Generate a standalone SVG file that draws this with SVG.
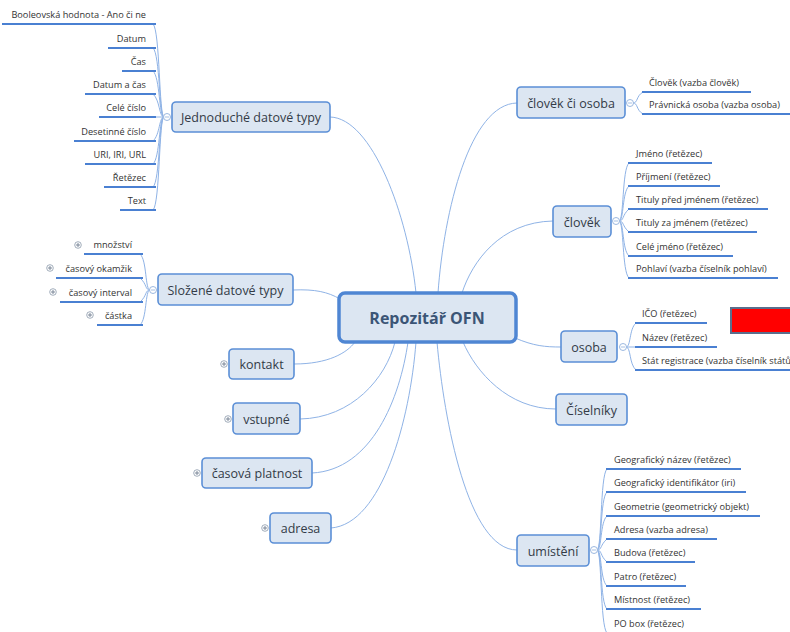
<svg xmlns="http://www.w3.org/2000/svg" width="790" height="632" viewBox="0 0 790 632">
<defs>
<style>
.box{fill:#dce6f2;stroke:#5b8fd6;stroke-width:1.6}
.root{fill:#dce6f2;stroke:#4f86d3;stroke-width:3.5}
.nt{font-family:"Open Sans","Noto Sans",sans-serif;font-size:12.5px;fill:#333b47;text-anchor:middle}
.rt{font-family:"Open Sans","Noto Sans",sans-serif;font-size:16px;font-weight:bold;fill:#3b5576;text-anchor:middle}
.lt{font-family:"Open Sans","Noto Sans",sans-serif;font-size:9.2px;fill:#333}
.ltr{text-anchor:end}
.ul{stroke:#4a80d2;stroke-width:2;fill:none}
.con{stroke:#8fb3e6;stroke-width:1;fill:none}
.br{stroke:#8fb3e6;stroke-width:1;fill:none}
.col{fill:#fff;stroke:#9bb8e0;stroke-width:1}
.plus{fill:#fff;stroke:#8a98aa;stroke-width:0.8}
.pl{stroke:#6f7d90;stroke-width:0.9}
</style>
</defs>

<g id="connectors">
<path class="con" d="M330,117 C372,118 408,215 416,293"/>
<path class="con" d="M517,103 C470,104 444,210 438,293"/>
<path class="con" d="M553,221 C500,222 472,262 462,293"/>
<path class="con" d="M293,290 C315,289 328,292 340,299"/>
<path class="con" d="M294,364 C328,364 347,353 355,342"/>
<path class="con" d="M300,419 C352,418 386,378 395,342"/>
<path class="con" d="M312,473 C372,470 400,398 408,342"/>
<path class="con" d="M331,528 C382,524 410,420 416,342"/>
<path class="con" d="M517,550 C468,550 444,420 437,342"/>
<path class="con" d="M556,409 C508,409 476,372 463,342"/>
<path class="con" d="M515,338 C534,346 545,347 561,347"/>
<!-- Jednoduche brackets -->
<path class="br" d="M164,117 C159,117 160,30 153,24"/>
<path class="br" d="M164,117 C159,117 160,54 153,48"/>
<path class="br" d="M164,117 C159,117 160,77 153,71"/>
<path class="br" d="M164,117 C159,117 160,100 153,94"/>
<path class="br" d="M164,117 L153,117"/>
<path class="br" d="M164,117 C159,117 160,135 153,141"/>
<path class="br" d="M164,117 C159,117 160,158 153,164"/>
<path class="br" d="M164,117 C159,117 160,181 153,187"/>
<path class="br" d="M164,117 C159,117 160,204 153,210"/>
<!-- Slozene brackets -->
<path class="br" d="M150,290 C145,290 147,260 140,254"/>
<path class="br" d="M150,290 C145,290 147,284 140,278"/>
<path class="br" d="M150,290 C145,290 147,296 140,302"/>
<path class="br" d="M150,290 C145,290 147,319 140,325"/>
<!-- clovek ci osoba -->
<path class="br" d="M633,103 C638,103 636,96 643,92"/>
<path class="br" d="M633,103 C638,103 636,110 643,114"/>
<!-- clovek -->
<path class="br" d="M619,221 C624,221 622,169 629,163"/>
<path class="br" d="M619,221 C624,221 622,192 629,186"/>
<path class="br" d="M619,221 C624,221 622,215 629,209"/>
<path class="br" d="M619,221 C624,221 622,226 629,232"/>
<path class="br" d="M619,221 C624,221 622,250 629,256"/>
<path class="br" d="M619,221 C624,221 622,272 629,278"/>
<!-- osoba -->
<path class="br" d="M626,347 C631,347 629,329 636,323"/>
<path class="br" d="M626,347 L636,347"/>
<path class="br" d="M626,347 C631,347 629,364 636,370"/>
<!-- umisteni -->
<path class="br" d="M597,550 C602,550 600,475 607,469"/>
<path class="br" d="M597,550 C602,550 600,498 607,492"/>
<path class="br" d="M597,550 C602,550 600,522 607,516"/>
<path class="br" d="M597,550 C602,550 600,545 607,539"/>
<path class="br" d="M597,550 C602,550 600,556 607,562"/>
<path class="br" d="M597,550 C602,550 600,580 607,586"/>
<path class="br" d="M597,550 C602,550 600,603 607,609"/>
<path class="br" d="M597,550 C602,550 600,626 607,633"/>
</g>

<g id="root">
<rect class="root" x="339" y="293" width="177" height="49" rx="6"/>
<text class="rt" x="427" y="324">Repozitář OFN</text>
</g>

<g id="jednoduche">
<rect class="box" x="172" y="102" width="158" height="30" rx="4"/>
<text class="nt" x="251" y="122">Jednoduché datové typy</text>
<circle class="col" cx="167" cy="117" r="3.5"/>
<line class="pl" x1="165" y1="117" x2="169" y2="117" style="stroke:#9bb8e0"/>
</g>
<g id="j-bool"><path class="ul" d="M2,24 H156"/><text class="lt ltr" x="146" y="17.5">Booleovská hodnota - Ano či ne</text></g>
<g id="j-datum"><path class="ul" d="M108,48 H156"/><text class="lt ltr" x="146" y="41.5">Datum</text></g>
<g id="j-cas"><path class="ul" d="M122,71 H156"/><text class="lt ltr" x="146" y="64.5">Čas</text></g>
<g id="j-datumcas"><path class="ul" d="M85,94 H156"/><text class="lt ltr" x="146" y="87.5">Datum a čas</text></g>
<g id="j-cele"><path class="ul" d="M99,117 H156"/><text class="lt ltr" x="146" y="110.5">Celé číslo</text></g>
<g id="j-des"><path class="ul" d="M74,141 H156"/><text class="lt ltr" x="146" y="134.5">Desetinné číslo</text></g>
<g id="j-uri"><path class="ul" d="M85,164 H156"/><text class="lt ltr" x="146" y="157.5">URI, IRI, URL</text></g>
<g id="j-ret"><path class="ul" d="M104,187 H156"/><text class="lt ltr" x="146" y="180.5">Řetězec</text></g>
<g id="j-text"><path class="ul" d="M120,210 H156"/><text class="lt ltr" x="146" y="203.5">Text</text></g>

<g id="slozene">
<rect class="box" x="158" y="274" width="135" height="31" rx="4"/>
<text class="nt" x="225.5" y="294.5">Složené datové typy</text>
<circle class="col" cx="153" cy="290" r="3.5"/>
<line x1="151" y1="290" x2="155" y2="290" style="stroke:#9bb8e0;stroke-width:0.9"/>
</g>
<g id="s-mnozstvi"><path class="ul" d="M84,254 H143"/><text class="lt ltr" x="132" y="248">množství</text>
<circle class="plus" cx="78" cy="245" r="3.3"/><path class="pl" d="M76,245 H80 M78,243 V247"/></g>
<g id="s-okamzik"><path class="ul" d="M56,278 H143"/><text class="lt ltr" x="132" y="272">časový okamžik</text>
<circle class="plus" cx="50" cy="268" r="3.3"/><path class="pl" d="M48,268 H52 M50,266 V270"/></g>
<g id="s-interval"><path class="ul" d="M60,302 H143"/><text class="lt ltr" x="132" y="296">časový interval</text>
<circle class="plus" cx="53" cy="292" r="3.3"/><path class="pl" d="M51,292 H55 M53,290 V294"/></g>
<g id="s-castka"><path class="ul" d="M97,325 H143"/><text class="lt ltr" x="132" y="319">částka</text>
<circle class="plus" cx="90" cy="315" r="3.3"/><path class="pl" d="M88,315 H92 M90,313 V317"/></g>

<g id="kontakt">
<rect class="box" x="229" y="349" width="65" height="30" rx="4"/>
<text class="nt" x="261.5" y="369">kontakt</text>
<circle class="plus" cx="224" cy="364" r="3.3"/><path class="pl" d="M222,364 H226 M224,362 V366"/>
</g>
<g id="vstupne">
<rect class="box" x="233" y="403" width="67" height="31" rx="4"/>
<text class="nt" x="266.5" y="423.5">vstupné</text>
<circle class="plus" cx="228" cy="419" r="3.3"/><path class="pl" d="M226,419 H230 M228,417 V421"/>
</g>
<g id="casova-platnost">
<rect class="box" x="202" y="458" width="110" height="30" rx="4"/>
<text class="nt" x="257" y="478">časová platnost</text>
<circle class="plus" cx="197" cy="473" r="3.3"/><path class="pl" d="M195,473 H199 M197,471 V475"/>
</g>
<g id="adresa">
<rect class="box" x="270" y="513" width="61" height="30" rx="4"/>
<text class="nt" x="300.5" y="533">adresa</text>
<circle class="plus" cx="265" cy="528" r="3.3"/><path class="pl" d="M263,528 H267 M265,526 V530"/>
</g>

<g id="clovek-ci-osoba">
<rect class="box" x="517" y="87" width="108" height="31" rx="4"/>
<text class="nt" x="571" y="107.5">člověk či osoba</text>
<circle class="col" cx="630" cy="103" r="3.5"/>
<line x1="628" y1="103" x2="632" y2="103" style="stroke:#9bb8e0;stroke-width:0.9"/>
</g>
<g id="co-clovek"><path class="ul" d="M642,92 H751"/><text class="lt" x="649" y="85.5">Člověk (vazba člověk)</text></g>
<g id="co-pravnicka"><path class="ul" d="M642,114 H792"/><text class="lt" x="649" y="107.5">Právnická osoba (vazba osoba)</text></g>

<g id="clovek">
<rect class="box" x="553" y="206" width="58" height="31" rx="4"/>
<text class="nt" x="582" y="226.5">člověk</text>
<circle class="col" cx="616" cy="221" r="3.5"/>
<line x1="614" y1="221" x2="618" y2="221" style="stroke:#9bb8e0;stroke-width:0.9"/>
</g>
<g id="c-jmeno"><path class="ul" d="M628,163 H712"/><text class="lt" x="636" y="156.5">Jméno (řetězec)</text></g>
<g id="c-prijmeni"><path class="ul" d="M628,186 H720"/><text class="lt" x="636" y="179.5">Příjmení (řetězec)</text></g>
<g id="c-tituly-pred"><path class="ul" d="M628,209 H768"/><text class="lt" x="636" y="202.5">Tituly před jménem (řetězec)</text></g>
<g id="c-tituly-za"><path class="ul" d="M628,232 H757"/><text class="lt" x="636" y="225.5">Tituly za jménem (řetězec)</text></g>
<g id="c-cele"><path class="ul" d="M628,256 H733"/><text class="lt" x="636" y="249.5">Celé jméno (řetězec)</text></g>
<g id="c-pohlavi"><path class="ul" d="M628,278 H778"/><text class="lt" x="636" y="271.5">Pohlaví (vazba číselník pohlaví)</text></g>

<g id="osoba">
<rect class="box" x="561" y="331" width="56" height="31" rx="4"/>
<text class="nt" x="589" y="351.5">osoba</text>
<circle class="col" cx="623" cy="347" r="3.5"/>
<line x1="621" y1="347" x2="625" y2="347" style="stroke:#9bb8e0;stroke-width:0.9"/>
</g>
<g id="o-ico"><path class="ul" d="M635,323 H707"/><text class="lt" x="642" y="316.5">IČO (řetězec)</text></g>
<g id="o-nazev"><path class="ul" d="M635,347 H717"/><text class="lt" x="642" y="340.5">Název (řetězec)</text></g>
<g id="o-stat"><path class="ul" d="M635,370 H792"/><text class="lt" x="642" y="363.5">Stát registrace (vazba číselník států</text></g>
<g id="red-box"><rect x="731" y="308" width="64" height="25" fill="#ff0000" stroke="#5a6e8c" stroke-width="2"/></g>

<g id="ciselniky">
<rect class="box" x="556" y="394" width="71" height="31" rx="4"/>
<text class="nt" x="591.5" y="414.5">Číselníky</text>
</g>

<g id="umisteni">
<rect class="box" x="517" y="535" width="72" height="31" rx="4"/>
<text class="nt" x="553" y="555.5">umístění</text>
<circle class="col" cx="594" cy="550" r="3.5"/>
<line x1="592" y1="550" x2="596" y2="550" style="stroke:#9bb8e0;stroke-width:0.9"/>
</g>
<g id="u-nazev"><path class="ul" d="M606,469 H741"/><text class="lt" x="614" y="462.5">Geografický název (řetězec)</text></g>
<g id="u-ident"><path class="ul" d="M606,492 H746"/><text class="lt" x="614" y="485.5">Geografický identifikátor (iri)</text></g>
<g id="u-geom"><path class="ul" d="M606,516 H760"/><text class="lt" x="614" y="509.5">Geometrie (geometrický objekt)</text></g>
<g id="u-adresa"><path class="ul" d="M606,539 H717"/><text class="lt" x="614" y="532.5">Adresa (vazba adresa)</text></g>
<g id="u-budova"><path class="ul" d="M606,562 H695"/><text class="lt" x="614" y="555.5">Budova (řetězec)</text></g>
<g id="u-patro"><path class="ul" d="M606,586 H686"/><text class="lt" x="614" y="579.5">Patro (řetězec)</text></g>
<g id="u-mistnost"><path class="ul" d="M606,609 H701"/><text class="lt" x="614" y="602.5">Místnost (řetězec)</text></g>
<g id="u-pobox"><path class="ul" d="M606,633 H690"/><text class="lt" x="614" y="626.5">PO box (řetězec)</text></g>
</svg>
